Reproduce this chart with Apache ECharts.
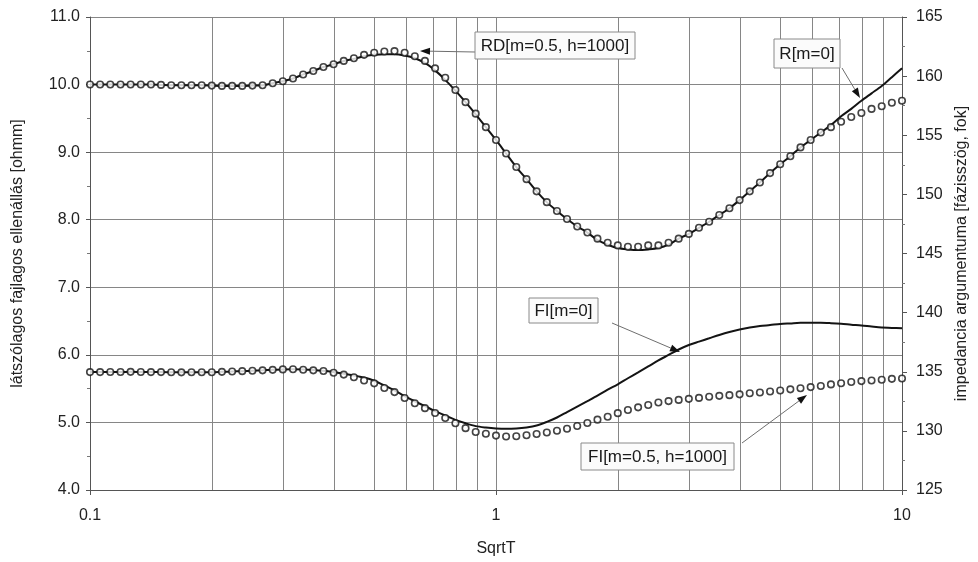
<!DOCTYPE html>
<html>
<head>
<meta charset="utf-8">
<script src="https://cdn.jsdelivr.net/npm/echarts@6/dist/echarts.min.js"></script>
<style>
html,body{margin:0;padding:0;background:#fff;}
#chart{width:978px;height:562px;}
</style>
</head>
<body>
<div id="chart"></div>
<script>
// SqrtT sample positions (log spaced)
const xs = [0.1,0.1059,0.1122,0.1189,0.1259,0.1334,0.1413,0.1496,0.1585,0.1679,
  0.1778,0.1884,0.1995,0.2113,0.2239,0.2371,0.2512,0.2661,0.2818,0.2985,
  0.3162,0.3350,0.3548,0.3758,0.3981,0.4217,0.4467,0.4732,0.5012,0.5309,
  0.5623,0.5957,0.6310,0.6683,0.7079,0.7499,0.7943,0.8414,0.8913,0.9441,
  1.0,1.059,1.122,1.189,1.259,1.334,1.413,1.496,1.585,1.679,
  1.778,1.884,1.995,2.113,2.239,2.371,2.512,2.661,2.818,2.985,
  3.162,3.350,3.548,3.758,3.981,4.217,4.467,4.732,5.012,5.309,
  5.623,5.957,6.310,6.683,7.079,7.499,7.943,8.414,8.913,9.441,10.0];

// RD[m=0.5, h=1000] markers (left axis, ohmm)
const rdPoints = [10.00,10.00,10.00,10.00,10.00,10.00,10.00,9.995,9.99,9.99,
  9.99,9.99,9.985,9.98,9.98,9.98,9.985,9.99,10.02,10.05,
  10.09,10.15,10.20,10.26,10.30,10.35,10.39,10.44,10.47,10.49,
  10.495,10.47,10.42,10.35,10.24,10.10,9.92,9.74,9.57,9.37,
  9.18,8.98,8.78,8.60,8.42,8.26,8.13,8.01,7.90,7.81,
  7.72,7.66,7.62,7.60,7.60,7.62,7.62,7.66,7.72,7.79,
  7.88,7.97,8.07,8.17,8.29,8.42,8.55,8.69,8.82,8.94,
  9.07,9.18,9.29,9.37,9.45,9.52,9.58,9.64,9.68,9.73,9.76];

// R[m=0] solid line (left axis, ohmm)
const rLine = [10.00,10.00,10.00,10.00,10.00,10.00,10.00,9.995,9.99,9.99,
  9.99,9.99,9.985,9.98,9.98,9.98,9.985,9.99,10.02,10.05,
  10.09,10.15,10.20,10.26,10.30,10.35,10.38,10.42,10.44,10.45,
  10.45,10.43,10.39,10.32,10.21,10.07,9.91,9.74,9.56,9.37,
  9.18,8.98,8.78,8.60,8.42,8.26,8.13,8.01,7.90,7.81,
  7.70,7.63,7.58,7.56,7.55,7.56,7.58,7.63,7.72,7.79,
  7.88,7.97,8.07,8.17,8.29,8.42,8.55,8.69,8.82,8.94,
  9.07,9.18,9.29,9.40,9.53,9.64,9.76,9.87,9.98,10.11,10.24];

// FI[m=0.5, h=1000] markers (right axis, degrees)
const fiPoints = [134.97,134.97,134.98,134.98,134.99,134.98,134.97,134.97,134.96,134.95,
  134.96,134.96,134.96,134.99,135.02,135.05,135.09,135.12,135.16,135.20,
  135.21,135.17,135.12,135.06,134.91,134.76,134.53,134.26,134.02,133.62,
  133.28,132.78,132.33,131.92,131.51,131.09,130.65,130.23,129.91,129.76,
  129.60,129.53,129.55,129.63,129.73,129.86,130.01,130.18,130.41,130.67,
  130.95,131.20,131.50,131.76,131.99,132.19,132.40,132.52,132.62,132.71,
  132.79,132.88,132.96,133.02,133.09,133.18,133.25,133.33,133.42,133.51,
  133.61,133.70,133.79,133.93,134.03,134.13,134.21,134.26,134.32,134.40,134.43];

// FI[m=0] solid line (right axis, degrees)
const fiLine = [134.97,134.97,134.98,134.98,134.99,134.98,134.97,134.97,134.96,134.95,
  134.96,134.96,134.96,134.99,135.02,135.05,135.09,135.12,135.16,135.20,
  135.21,135.19,135.15,135.08,134.97,134.83,134.69,134.51,134.24,133.84,
  133.43,132.93,132.50,132.09,131.67,131.30,130.93,130.64,130.40,130.28,
  130.20,130.17,130.20,130.29,130.45,130.76,131.13,131.59,132.06,132.52,
  132.98,133.48,133.94,134.45,134.95,135.45,135.96,136.42,136.88,137.26,
  137.55,137.83,138.11,138.36,138.57,138.74,138.87,138.95,139.04,139.09,
  139.14,139.14,139.14,139.11,139.06,138.98,138.91,138.82,138.74,138.71,138.67];

// axis settings / tick values
const xMin = 0.1, xMax = 10;
const leftMin = 4, leftMax = 11, leftStep = 1;
const rightMin = 125, rightMax = 165, rightStep = 5;
const xMinorGrid = [0.2,0.3,0.4,0.5,0.6,0.7,0.8,0.9,1,2,3,4,5,6,7,8,9];

// texts
const xName = 'SqrtT';
const leftName = 'látszólagos fajlagos ellenállás [ohmm]';
const rightName = 'impedancia argumentuma [fázisszög, fok]';
const nameRD = 'RD[m=0.5, h=1000]';
const nameR = 'R[m=0]';
const nameFI0 = 'FI[m=0]';
const nameFI5 = 'FI[m=0.5, h=1000]';

const pair = arr => xs.map((x, i) => [x, arr[i]]);
const FONT = '"Liberation Sans", Arial, sans-serif';
const GRID = '#868686';

const chart = echarts.init(document.getElementById('chart'));

function arrow(x1, y1, x2, y2) {
  const a = Math.atan2(y2 - y1, x2 - x1);
  const L = 10, W = 3.5;
  const c = Math.cos(a), s = Math.sin(a);
  const bx = x2 - L * c, by = y2 - L * s;
  return [
    {type: 'line', shape: {x1: x1, y1: y1, x2: bx, y2: by}, style: {stroke: '#6e6e6e', lineWidth: 1}, z: 100},
    {type: 'polygon', shape: {points: [[x2, y2], [bx + W * s, by - W * c], [bx - W * s, by + W * c]]}, style: {fill: '#111'}, z: 100}
  ];
}
function box(x, y, w, h, text) {
  return [
    {type: 'rect', shape: {x: x, y: y, width: w, height: h}, style: {fill: '#fbfbfb', stroke: '#8a8a8a', lineWidth: 1}, z: 100},
    {type: 'text', x: x + w / 2, y: y + h / 2 + 1, style: {text: text, fontSize: 17, fontFamily: FONT, fill: '#1a1a1a', align: 'center', verticalAlign: 'middle'}, z: 101}
  ];
}

const graphics = [].concat(
  arrow(475, 52, 420, 51), box(475, 32, 160, 27, nameRD),
  arrow(842, 68, 860, 98), box(774, 39, 66, 29, nameR),
  arrow(612, 323, 680, 352), box(529, 298, 69, 25, nameFI0),
  arrow(742, 443, 807, 395), box(581, 443, 153, 27, nameFI5)
);

const option = {
  animation: false,
  backgroundColor: '#ffffff',
  grid: {left: 90, right: 71, top: 17, bottom: 67, containLabel: false},
  xAxis: {
    type: 'log', logBase: 10, min: xMin, max: xMax,
    name: xName, nameLocation: 'middle', nameGap: 51,
    nameTextStyle: {fontSize: 16, fontFamily: FONT, color: '#222'},
    axisLine: {show: true, onZero: false, lineStyle: {color: '#555', width: 1}},
    axisTick: {show: true, inside: false, length: 5, lineStyle: {color: '#555'}},
    axisLabel: {fontSize: 16, fontFamily: FONT, color: '#222', margin: 18,
      formatter: v => (v < 1 ? v.toFixed(1) : String(Math.round(v)))},
    splitLine: {show: false}
  },
  yAxis: [
    {
      type: 'value', min: leftMin, max: leftMax, interval: leftStep, position: 'left',
      name: leftName, nameLocation: 'middle', nameRotate: 90, nameGap: 64,
      nameTextStyle: {fontSize: 16, fontFamily: FONT, color: '#222'},
      axisLine: {show: true, lineStyle: {color: '#555'}},
      axisTick: {show: true, length: 4, lineStyle: {color: '#555'}},
      minorTick: {show: true, splitNumber: 2, length: 3, lineStyle: {color: '#777'}},
      axisLabel: {fontSize: 16, fontFamily: FONT, color: '#222', margin: 10, formatter: v => v.toFixed(1)},
      splitLine: {show: true, lineStyle: {color: GRID, width: 1}}
    },
    {
      type: 'value', min: rightMin, max: rightMax, interval: rightStep, position: 'right',
      name: rightName, nameLocation: 'middle', nameRotate: 90, nameGap: 52,
      nameTextStyle: {fontSize: 16, fontFamily: FONT, color: '#222'},
      axisLine: {show: true, lineStyle: {color: '#555'}},
      axisTick: {show: true, length: 5, lineStyle: {color: '#555'}},
      minorTick: {show: true, splitNumber: 2, length: 3, lineStyle: {color: '#777'}},
      axisLabel: {fontSize: 16, fontFamily: FONT, color: '#222', margin: 14},
      splitLine: {show: false}
    }
  ],
  series: [
    {
      name: nameR, type: 'line', yAxisIndex: 0, data: pair(rLine),
      showSymbol: false, smooth: 0.3, z: 3,
      lineStyle: {color: '#141414', width: 2},
      markLine: {
        silent: true, symbol: ['none', 'none'], label: {show: false}, z: 1,
        lineStyle: {color: GRID, width: 1, type: 'solid'},
        data: xMinorGrid.map(v => ({xAxis: v}))
      }
    },
    {
      name: nameFI0, type: 'line', yAxisIndex: 1, data: pair(fiLine),
      showSymbol: false, smooth: 0.3, z: 3,
      lineStyle: {color: '#141414', width: 2}
    },
    {
      name: nameRD, type: 'scatter', yAxisIndex: 0, data: pair(rdPoints),
      symbol: 'circle', symbolSize: 6.5, z: 5,
      itemStyle: {color: '#ffffff', borderColor: '#151515', borderWidth: 1.6}
    },
    {
      name: nameFI5, type: 'scatter', yAxisIndex: 1, data: pair(fiPoints),
      symbol: 'circle', symbolSize: 6.5, z: 5,
      itemStyle: {color: '#ffffff', borderColor: '#151515', borderWidth: 1.6}
    }
  ],
  graphic: graphics
};
chart.setOption(option);
</script>
</body>
</html>
